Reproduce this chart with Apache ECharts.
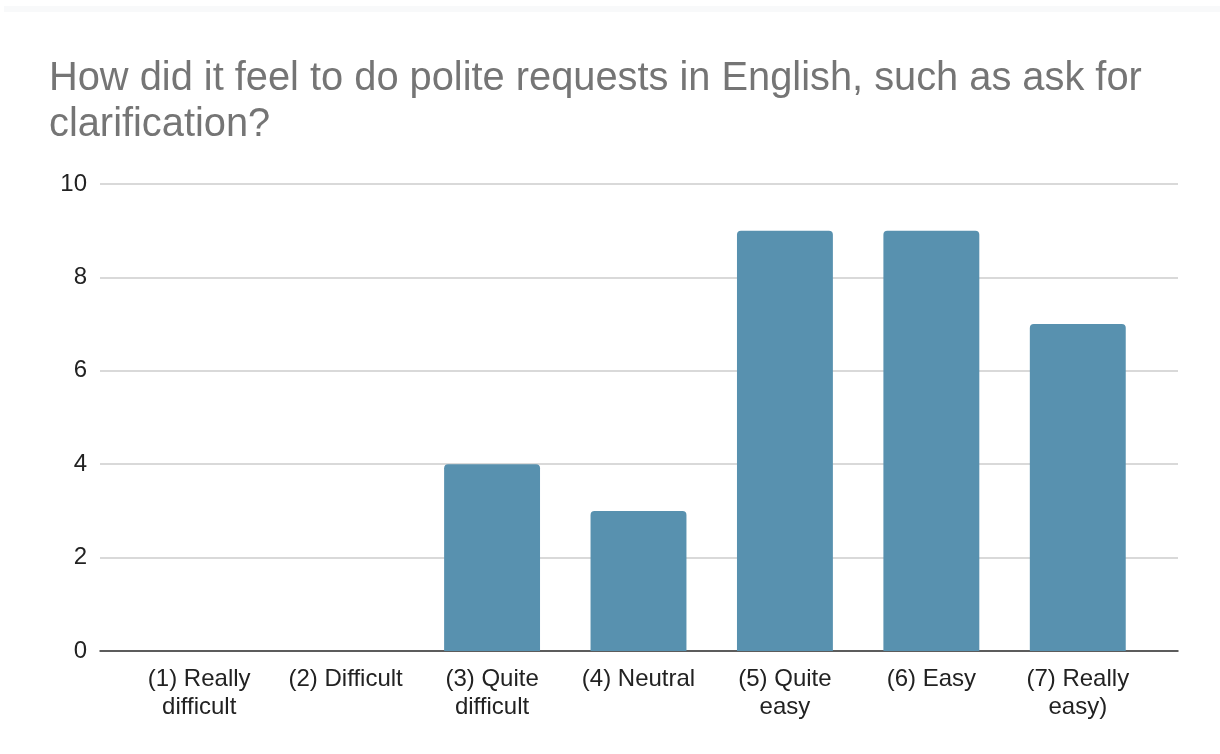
<!DOCTYPE html>
<html>
<head>
<meta charset="utf-8">
<script src="https://cdn.jsdelivr.net/npm/echarts@6/dist/echarts.min.js"></script>
<style>
  html, body { margin: 0; padding: 0; background: #fff; }
  #chart { width: 1220px; height: 754px; }
</style>
</head>
<body>
<div id="chart"></div>
<script>
// answers on the 7-point scale
const categories = [
    '(1) Really\ndifficult',
    '(2) Difficult',
    '(3) Quite\ndifficult',
    '(4) Neutral',
    '(5) Quite\neasy',
    '(6) Easy',
    '(7) Really\neasy)'
];
const counts = [0, 0, 4, 3, 9, 9, 7];
const yTicks = [0, 2, 4, 6, 8, 10];

const titleText = 'How did it feel to do polite requests in English, such as ask for\nclarification?';
const FONT = '"Liberation Sans", Arial, sans-serif';

const chart = echarts.init(document.getElementById('chart'));

// grid 0 carries the gridlines and y labels, grid 1 the bars (narrower, as in the sheet)
const options = {
    backgroundColor: '#ffffff',
    animation: false,
    textStyle: { fontFamily: FONT },
    graphic: [{
        type: 'rect',
        left: 4,
        top: 6,
        shape: { width: 1216, height: 6 },
        style: { fill: '#f8f9fa' }
    }],
    title: {
        text: titleText,
        left: 44,
        top: 51,
        textStyle: {
            color: '#757575',
            fontFamily: FONT,
            fontWeight: 'normal',
            fontSize: 39.8,
            lineHeight: 46
        }
    },
    grid: [
        { left: 100, right: 42, top: 184, bottom: 103 },
        { left: 126, right: 69, top: 184, bottom: 103 }
    ],
    xAxis: [{
        type: 'value',
        gridIndex: 0,
        min: 0,
        max: 1,
        splitLine: { show: false },
        axisTick: { show: false },
        axisLabel: { show: false },
        axisLine: { show: true, lineStyle: { color: '#333333', width: 1.5 } }
    }, {
        type: 'category',
        gridIndex: 1,
        data: categories,
        axisTick: { show: false },
        axisLine: { show: false },
        axisLabel: {
            color: '#222222',
            fontFamily: FONT,
            fontSize: 24,
            lineHeight: 28,
            margin: 14,
            interval: 0
        }
    }],
    yAxis: [{
        type: 'value',
        gridIndex: 0,
        min: yTicks[0],
        max: yTicks[yTicks.length - 1],
        interval: 2,
        axisLine: { show: false },
        axisTick: { show: false },
        splitLine: { lineStyle: { color: '#cccccc', width: 1.5 } },
        axisLabel: {
            color: '#222222',
            fontFamily: FONT,
            fontSize: 24,
            margin: 13
        }
    }, {
        type: 'value',
        gridIndex: 1,
        min: yTicks[0],
        max: yTicks[yTicks.length - 1],
        interval: 2,
        show: false
    }],
    series: [{
        type: 'bar',
        xAxisIndex: 1,
        yAxisIndex: 1,
        data: counts,
        barWidth: '65.5%',
        itemStyle: {
            color: '#5891af',
            borderRadius: [4, 4, 0, 0]
        }
    }]
};

chart.setOption(options);
</script>
</body>
</html>
